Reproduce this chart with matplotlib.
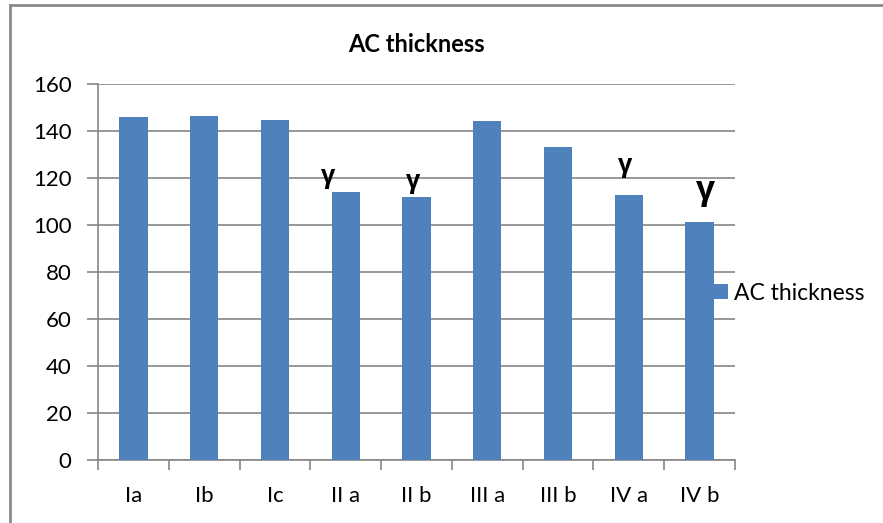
import matplotlib
matplotlib.use("Agg")
import matplotlib.pyplot as plt
from matplotlib.lines import Line2D
import numpy as np

plt.rcParams['font.family'] = ['Lato', 'DejaVu Sans']

categories = ["Ia", "Ib", "Ic", "II a", "II b", "III a", "III b", "IV a", "IV b"]
thickness = [146, 146.3, 144.8, 114.2, 111.8, 144.2, 133.0, 112.6, 101.4]

# gamma marks: category index, height of the mark
gamma_idx = [3, 4, 7, 8]
gamma_y = [120.5, 118.5, 125.5, 114.5]
gamma_dx = [-0.25, -0.05, -0.05, 0.08]
gamma_size = [18, 18, 18, 24]

bar_color = "#4F81BD"
grey = "#868686"

fig = plt.figure(figsize=(8.83, 5.23), dpi=100)
ax = fig.add_axes([98 / 883, 1 - 460 / 523, (735 - 98) / 883, (460 - 84) / 523])

x = np.arange(len(categories))
ax.bar(x, thickness, width=0.4, color=bar_color, label="AC thickness", zorder=3)

ax.set_xlim(-0.5, len(categories) - 0.5)
ax.set_ylim(0, 160)
ax.set_yticks(range(0, 161, 20))
ax.set_xticks(x)
ax.set_xticklabels(categories)
ax.set_xticks(np.arange(-0.5, len(categories), 1), minor=True)
ax.tick_params(axis="x", which="major", length=0, pad=19, labelsize=16)
ax.tick_params(axis="x", which="minor", length=7, color=grey, width=1.2)
ax.tick_params(axis="y", length=8, color=grey, width=1.2, labelsize=16, pad=11)

ax.grid(axis="y", color=grey, linewidth=1.2, zorder=0)
for s in ["top", "right"]:
    ax.spines[s].set_visible(False)
for s in ["left", "bottom"]:
    ax.spines[s].set_color(grey)
    ax.spines[s].set_linewidth(1.2)

for i, gy, dx, fs in zip(gamma_idx, gamma_y, gamma_dx, gamma_size):
    ax.text(i + dx, gy, "γ", ha="center", va="center", fontsize=fs,
            fontweight="bold", family=["Open Sans", "DejaVu Sans"], zorder=4)

ax.set_title("AC thickness", fontsize=17, fontweight="bold", pad=23)

leg = ax.legend(loc="center left", bbox_to_anchor=(0.965, 0.444), frameon=False,
                fontsize=16.5, handlelength=0.65, handleheight=0.65, handletextpad=0.3,
                borderpad=0, borderaxespad=0)

# outer chart frame
fig.add_artist(Line2D([10 / 883, 10 / 883], [0, 1 - 5 / 523], color="#8a8a8a", linewidth=2))
fig.add_artist(Line2D([10 / 883, 1], [1 - 5 / 523, 1 - 5 / 523], color="#8a8a8a", linewidth=2))

fig.savefig("out.png", dpi=100)
